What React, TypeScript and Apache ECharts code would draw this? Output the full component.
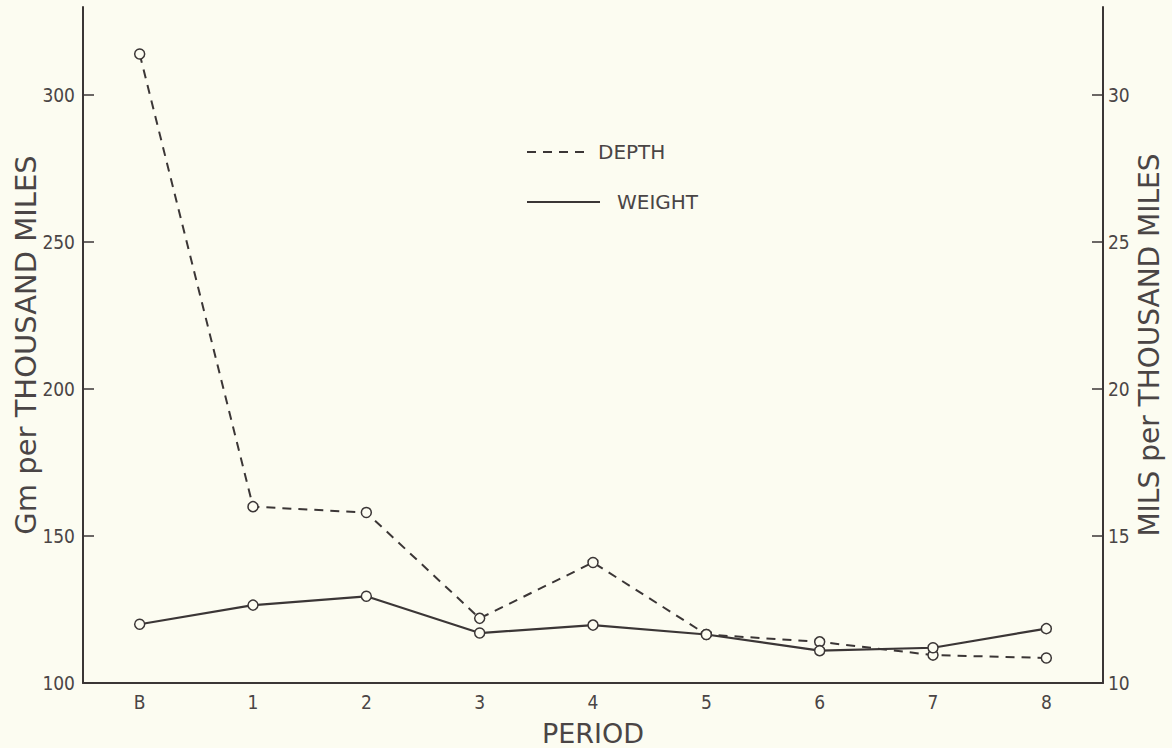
import React, { useEffect, useRef } from "react";
import * as echarts from "echarts";

const categories = ["B", "1", "2", "3", "4", "5", "6", "7", "8"];
const depth = [314, 160, 158, 122, 141, 116.5, 114, 109.5, 108.5];
const weight = [120, 126.5, 129.5, 117, 119.7, 116.5, 111, 112, 118.5];
const leftTicks = { min: 100, max: 330, interval: 50 };
const rightTicks = { min: 10, max: 33, interval: 5 };

const INK = "#3b3636";
const TXT = "#4a4545";
const BG = "#fcfcf1";
const FONT = "'DejaVu Sans', sans-serif";
const NUMFONT = "'Liberation Sans Narrow', 'DejaVu Sans Condensed', 'DejaVu Sans', sans-serif";

export default function App() {
  const ref = useRef<HTMLDivElement>(null);
  useEffect(() => {
    if (!ref.current) return;
    const chart = echarts.init(ref.current, null, { renderer: "svg" });
    chart.setOption({
      animation: false,
      backgroundColor: BG,
      textStyle: { fontFamily: FONT, color: TXT },
      grid: { left: 83, right: 69, top: 7, bottom: 65, containLabel: false, outerBoundsMode: "none" },
      xAxis: {
        type: "category",
        data: categories,
        boundaryGap: true,
        name: "PERIOD",
        nameLocation: "middle",
        nameGap: 37,
        nameMoveOverlap: false,
        nameTextStyle: { fontSize: 27, color: TXT, fontFamily: FONT },
        axisLine: { lineStyle: { color: INK, width: 2 } },
        axisTick: { inside: true, alignWithLabel: true, length: 11, lineStyle: { color: INK, width: 1.5 } },
        axisLabel: { color: TXT, fontSize: 19, margin: 9, fontFamily: NUMFONT },
        splitLine: { show: false },
      },
      yAxis: [
        {
          type: "value",
          position: "left",
          min: leftTicks.min,
          max: leftTicks.max,
          interval: leftTicks.interval,
          name: "Gm per THOUSAND MILES",
          nameLocation: "middle",
          nameRotate: 90,
          nameGap: 43,
          nameMoveOverlap: false,
          nameTextStyle: { fontSize: 29, color: TXT, fontFamily: FONT },
          axisLine: { show: true, lineStyle: { color: INK, width: 2 } },
          axisTick: { show: true, inside: true, length: 11, lineStyle: { color: INK, width: 1.5 } },
          axisLabel: { color: TXT, fontSize: 19, margin: 8, showMaxLabel: false, fontFamily: NUMFONT },
          splitLine: { show: false },
        },
        {
          type: "value",
          position: "right",
          min: rightTicks.min,
          max: rightTicks.max,
          interval: rightTicks.interval,
          name: "MILS per THOUSAND MILES",
          nameLocation: "middle",
          nameRotate: 90,
          nameGap: 32,
          nameMoveOverlap: false,
          nameTextStyle: { fontSize: 28, color: TXT, fontFamily: FONT },
          axisLine: { show: true, lineStyle: { color: INK, width: 2 } },
          axisTick: { show: true, inside: true, length: 11, lineStyle: { color: INK, width: 1.5 } },
          axisLabel: { color: TXT, fontSize: 19, margin: 5, showMaxLabel: false, fontFamily: NUMFONT },
          splitLine: { show: false },
        },
      ],
      series: [
        {
          name: "DEPTH",
          type: "line",
          data: depth,
          yAxisIndex: 0,
          symbol: "circle",
          symbolSize: 10,
          lineStyle: { color: INK, width: 2, type: [9, 7] },
          itemStyle: { color: BG, borderColor: INK, borderWidth: 1.5 },
          z: 3,
        },
        {
          name: "WEIGHT",
          type: "line",
          data: weight,
          yAxisIndex: 0,
          symbol: "circle",
          symbolSize: 10,
          lineStyle: { color: INK, width: 2.2 },
          itemStyle: { color: BG, borderColor: INK, borderWidth: 1.5 },
          z: 4,
        },
      ],
      graphic: [
        { type: "line", shape: { x1: 527, y1: 152, x2: 590, y2: 152 }, style: { stroke: INK, lineWidth: 2, lineDash: [9, 7] } },
        { type: "text", x: 598, y: 152, style: { text: "DEPTH", fill: TXT, fontSize: 20, fontFamily: FONT, verticalAlign: "middle" } },
        { type: "line", shape: { x1: 527, y1: 202, x2: 600, y2: 202 }, style: { stroke: INK, lineWidth: 2.2 } },
        { type: "text", x: 617, y: 202, style: { text: "WEIGHT", fill: TXT, fontSize: 20, fontFamily: FONT, verticalAlign: "middle" } },
      ],
    });
    return () => chart.dispose();
  }, []);
  return (
    <div style={{ position: "fixed", left: 0, top: 0, width: 1172, height: 748, background: BG }}>
      <div ref={ref} style={{ width: 1172, height: 748 }} />
    </div>
  );
}
